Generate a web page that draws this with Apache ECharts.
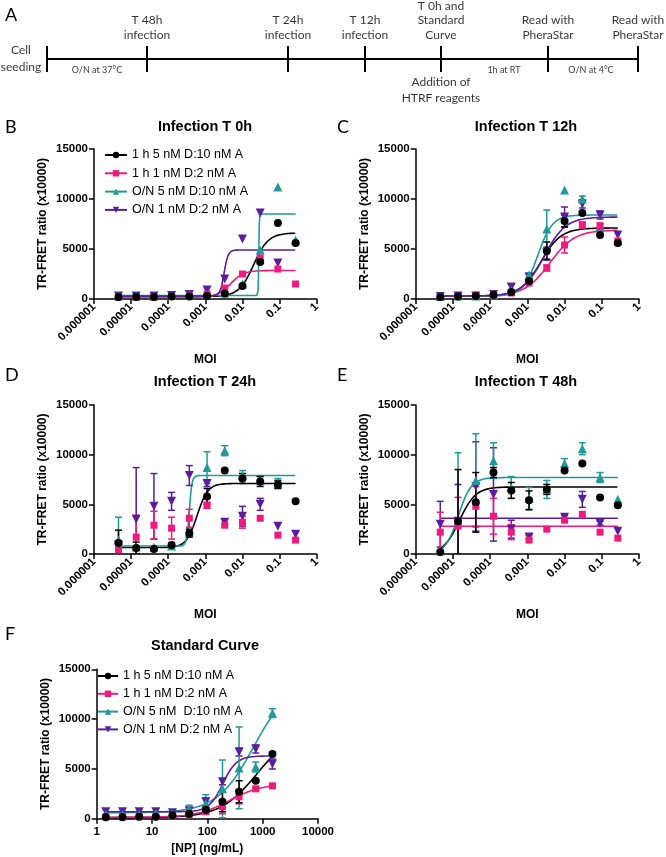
<!DOCTYPE html>
<html><head><meta charset="utf-8">
<script src="https://cdn.jsdelivr.net/npm/echarts@6/dist/echarts.min.js"></script>
<style>html,body{margin:0;padding:0;background:#fff}#c{width:666px;height:857px}</style>
</head><body><div id="c"></div>
<script>
// ---------- DATA ----------
const seriesNames = ['1 h 5 nM D:10 nM A', '1 h 1 nM D:2 nM A', 'O/N 5 nM D:10 nM A', 'O/N 1 nM D:2 nM A'];
const seriesNamesF = ['1 h 5 nM D:10 nM A', '1 h 1 nM D:2 nM A', 'O/N 5 nM  D:10 nM A', 'O/N 1 nM D:2 nM A'];
const panelTitles = ['Infection T 0h', 'Infection T 12h', 'Infection T 24h', 'Infection T 48h', 'Standard Curve'];
const panelLetters = ['A', 'B', 'C', 'D', 'E', 'F'];
const moiTickLabels = ['0.000001', '0.00001', '0.0001', '0.001', '0.01', '0.1', '1'];
const npTickLabels = ['1', '10', '100', '1000', '10000'];

const MOI = [0.00000457, 0.0000137, 0.0000412, 0.000123, 0.00037, 0.00111, 0.00333, 0.01, 0.03, 0.09, 0.27];
const NP = [1.46, 2.93, 5.86, 11.7, 23.4, 46.9, 93.75, 187.5, 375, 750, 1500];

// Panel B – T 0h
const B_black  = [200, 200, 200, 250, 250, 300, 550, 1300, 3700, 7600, 5600];
const B_pink   = [200, 200, 200, 250, 300, 500, 1100, 2500, 4100, 3000, 1500];
const B_teal   = [300, 300, 300, 350, 400, 450, 600, 1500, 4900, 11200, 5900];
const B_purple = [300, 300, 300, 350, 450, 900, 2000, 6000, 8600, 3600, null];
// fit params [bottom, top, EC50, hill]
const B_fits = [[250, 6600, 0.02, 2.2], [200, 2850, 0.0048, 2.5], [350, 8500, 0.0275, 60], [300, 4900, 0.0032, 8]];

// Panel C – T 12h
const C_black  = [200, 250, 300, 400, 700, 1800, 4800, 7800, 8600, 6400, 5600];
const C_pink   = [200, 250, 300, 400, 600, 1600, 3100, 5400, 7400, 7300, 5800];
const C_teal   = [250, 300, 300, 400, 800, 2400, 7000, 10900, 10000, 7200, 5800];
const C_purple = [250, 300, 300, 450, 1200, 2200, 4600, 8200, 9500, 8400, 6400];
const C_black_err  = [null, null, null, null, null, 200, 900, 600, null, null, null];
const C_pink_err   = [null, null, null, null, null, null, 300, 800, 300, 300, null];
const C_teal_err   = [null, null, null, null, null, 200, 1900, null, 300, null, null];
const C_purple_err = [null, null, null, null, 300, null, 600, 1000, 400, 400, null];
const C_fits = [[300, 7100, 0.0023, 1.6], [300, 6900, 0.004, 1.3], [300, 8400, 0.0019, 2.2], [300, 8200, 0.0028, 1.5]];

// Panel D – T 24h
const D_black  = [1100, 600, 500, 900, 2100, 5800, 8400, 7600, 7300, 7000, 5300];
const D_pink   = [400, 1700, 2900, 2600, 3600, 4900, 2900, 3200, 3600, 1900, 1400];
const D_teal   = [1400, 700, 700, 800, 2200, 8700, 10400, 7900, 7400, 7100, null];
const D_purple = [900, 3500, 4800, 5300, 7900, 7100, 3200, 3800, 5000, 2800, 2000];
const D_black_err  = [1300, 600, null, 200, 400, 800, null, 500, 500, 400, null];
const D_pink_err   = [500, 2200, 1400, 1100, 900, 300, null, 600, null, null, null];
const D_teal_err   = [2300, null, null, null, null, 1600, 500, 500, 400, 500, null];
const D_purple_err = [null, 5200, 3300, 900, 1000, 300, null, 1000, 600, null, null];
const D_fits = [[650, 7100, 0.0006, 3], null, [800, 7900, 0.00037, 12], null];

// Panel E – T 48h
const E_black  = [200, 3300, 5200, 8200, 6400, 5400, 6500, 8400, 9100, 5700, 4900];
const E_pink   = [2200, 2800, 4800, 3800, 2200, 1400, 2500, 3400, 4000, 2200, 1600];
const E_teal   = [300, 3300, 7400, 9400, 6700, 5600, 6500, 9100, 10600, 7700, 5500];
const E_purple = [3000, 3300, 6800, 6000, 2500, 1700, null, 3700, 5500, 3100, 2300];
const E_black_err  = [null, 5200, 3000, 500, 800, 950, 500, null, null, null, null];
const E_pink_err   = [2000, 2900, 2000, 1800, 750, null, null, null, null, null, null];
const E_teal_err   = [null, 6900, 4700, 1800, 1100, 1100, 900, 500, 600, 500, null];
const E_purple_err = [2300, 3700, 4500, 4700, 900, 200, null, 200, 800, 200, null];
const E_fits = [[0, 6750, 0.000015, 2], [2800, 2800, 0.001, 1], [0, 7700, 0.000014, 2.5], [3600, 3600, 0.001, 1]];

// Panel F – Standard curve
const F_black  = [150, 150, 200, 200, 350, 500, 900, 1700, 2700, 3800, 6500];
const F_pink   = [200, 200, 200, 200, 300, 400, 700, 1200, 2200, 3000, 3300];
const F_teal   = [400, 400, 400, 500, 500, 1000, 1500, 3000, 5100, 5200, 10600];
const F_purple = [700, 700, 700, 700, 600, 800, 1700, 3700, 6700, 7000, 5500];
const F_black_err  = [null, null, null, null, null, null, 200, 1000, 1100, null, null];
const F_pink_err   = [null, null, null, null, null, null, 200, 700, 700, 100, null];
const F_teal_err   = [null, null, null, null, null, 350, 900, 2900, 4100, 500, 450];
const F_purple_err = [null, null, null, null, null, null, 400, 300, 400, 400, 500];
const F_fits = [[100, 9000, 800, 1.3], [150, 3500, 250, 1.5], [600, 14000, 700, 1.3], [700, 6300, 190, 3.5]];

// Timeline (panel A), positions in timeline units
const timelineTicks = [0, 100, 241, 318, 394, 501, 591];
const timelineTopLabels = ['', 'T 48h\ninfection', 'T 24h\ninfection', 'T 12h\ninfection', 'T 0h and\nStandard\nCurve', 'Read with\nPheraStar', 'Read with\nPheraStar'];
const timelineStartLabel = 'Cell\nseeding';
const timelineBottomLabel = 'Addition of\nHTRF reagents';
const timelineBottomAt = 394;
const intervalLabels = ['O/N at 37°C', '1h at RT', 'O/N at 4°C'];
const intervalPos = [50, 457, 544];

// ---------- STYLE ----------
const colors = ['#000000', '#F0197D', '#1F9A98', '#5A1E9C'];
const symbols = ['circle', 'rect', 'triangle', 'triangle'];
const symRot = [0, 0, 0, 180];
const symSize = [8, 7, 9, 9];
const AR = 'Liberation Sans';

const chart = echarts.init(document.getElementById('c'), null, {renderer: 'canvas'});

const grids = [
  {left: 47, top: 39, width: 591, height: 40},
  {left: 94, top: 149, width: 222.7, height: 150},
  {left: 415.7, top: 149, width: 223.3, height: 150},
  {left: 94, top: 405, width: 222.7, height: 149},
  {left: 415.7, top: 405, width: 223.3, height: 149},
  {left: 96.7, top: 669.3, width: 221.3, height: 149.4}
].map(g => Object.assign({outerBoundsMode: 'none', containLabel: false}, g));

const axisLine = {show: true, onZero: false, lineStyle: {color: '#000', width: 1.5}};
const axisTick = {show: true, length: 5, lineStyle: {color: '#000', width: 1.5}};
const lbl = {color: '#000', fontWeight: 'bold', fontSize: 11.5, fontFamily: AR};

const xAxes = [{gridIndex: 0, type: 'value', min: 0, max: 591, show: false}];
const yAxes = [{gridIndex: 0, type: 'value', min: -1, max: 1, show: false}];
for (let g = 1; g <= 5; g++) {
  const isF = g === 5;
  xAxes.push({
    gridIndex: g, type: 'log', logBase: 10,
    min: isF ? 1 : 1e-6, max: isF ? 10000 : 1, splitNumber: isF ? 4 : 6,
    axisLine, axisTick, splitLine: {show: false}, minorTick: {show: false},
    axisLabel: Object.assign({}, lbl, {
      rotate: isF ? 0 : 45, margin: isF ? 7 : 6,
      formatter: v => isF ? npTickLabels[Math.round(Math.log10(v))] : moiTickLabels[Math.round(Math.log10(v)) + 6]
    }),
    name: isF ? '[NP] (ng/mL)' : 'MOI', nameLocation: 'middle', nameGap: isF ? 24 : 55,
    nameTextStyle: {color: '#000', fontWeight: 'bold', fontSize: 12, fontFamily: AR}
  });
  yAxes.push({
    gridIndex: g, type: 'value', min: 0, max: 15000, interval: 5000,
    axisLine, axisTick, splitLine: {show: false},
    axisLabel: Object.assign({}, lbl, {margin: 6, formatter: v => String(v)}),
    name: 'TR-FRET ratio (x10000)', nameLocation: 'middle', nameGap: 45, nameRotate: 90,
    nameTextStyle: {color: '#000', fontWeight: 'bold', fontSize: 12, fontFamily: AR}
  });
}

function fourPL(p, x) { return p[0] + (p[1] - p[0]) / (1 + Math.pow(p[2] / x, p[3])); }
function curve(p, xs) {
  const lo = Math.log10(xs[0]), hi = Math.log10(xs[xs.length - 1]), n = 400, out = [];
  for (let i = 0; i <= n; i++) { const x = Math.pow(10, lo + (hi - lo) * i / n); out.push([x, fourPL(p, x)]); }
  return out;
}

const panels = [
  {g: 1, x: MOI, vals: [B_black, B_pink, B_teal, B_purple], errs: [null, null, null, null], fits: B_fits, names: seriesNames},
  {g: 2, x: MOI, vals: [C_black, C_pink, C_teal, C_purple], errs: [C_black_err, C_pink_err, C_teal_err, C_purple_err], fits: C_fits, names: seriesNames},
  {g: 3, x: MOI, vals: [D_black, D_pink, D_teal, D_purple], errs: [D_black_err, D_pink_err, D_teal_err, D_purple_err], fits: D_fits, names: seriesNames},
  {g: 4, x: MOI, vals: [E_black, E_pink, E_teal, E_purple], errs: [E_black_err, E_pink_err, E_teal_err, E_purple_err], fits: E_fits, names: seriesNames},
  {g: 5, x: NP, vals: [F_black, F_pink, F_teal, F_purple], errs: [F_black_err, F_pink_err, F_teal_err, F_purple_err], fits: F_fits, names: seriesNamesF}
];

const series = [];
// timeline
series.push({type: 'line', xAxisIndex: 0, yAxisIndex: 0, data: [[timelineTicks[0], 0], [timelineTicks[timelineTicks.length - 1], 0]],
  symbol: 'none', lineStyle: {color: '#000', width: 2}, silent: true});
series.push({type: 'custom', xAxisIndex: 0, yAxisIndex: 0, data: timelineTicks.map(t => [t]), silent: true,
  renderItem: (params, api) => {
    const a = api.coord([api.value(0), -0.65]), b = api.coord([api.value(0), 0.65]);
    return {type: 'line', shape: {x1: a[0], y1: a[1], x2: b[0], y2: b[1]}, style: {stroke: '#000', lineWidth: 2}};
  }});
const tlText = {color: '#000', fontFamily: 'Lato', fontSize: 12, lineHeight: 14.5};
series.push({type: 'scatter', xAxisIndex: 0, yAxisIndex: 0, symbolSize: 0, silent: true, clip: false,
  data: timelineTicks.map((t, i) => ({value: [t, 0.65], label: {show: !!timelineTopLabels[i], formatter: timelineTopLabels[i]}})),
  label: Object.assign({position: 'top', distance: 4, align: 'center'}, tlText)});
series.push({type: 'scatter', xAxisIndex: 0, yAxisIndex: 0, symbolSize: 0, silent: true, clip: false,
  data: [{value: [timelineTicks[0], 0], label: {formatter: timelineStartLabel, position: 'left', distance: 26, lineHeight: 17}},
         {value: [timelineBottomAt, -0.65], label: {formatter: timelineBottomLabel, position: 'bottom', distance: 2, lineHeight: 16}}],
  label: Object.assign({show: true, align: 'center'}, tlText)});
series.push({type: 'scatter', xAxisIndex: 0, yAxisIndex: 0, symbolSize: 0, silent: true, clip: false,
  data: intervalPos.map((p, i) => ({value: [p, 0], label: {formatter: intervalLabels[i]}})),
  label: {show: true, position: 'bottom', distance: 7, color: '#000', fontFamily: 'Lato', fontSize: 9}});

// curves first (legend takes icon from first series by name)
panels.forEach(P => {
  P.fits.forEach((f, k) => {
    if (!f) return;
    series.push({type: 'line', name: P.names[k], xAxisIndex: P.g, yAxisIndex: P.g, data: curve(f, P.x),
      showSymbol: false, symbol: symbols[k], symbolRotate: symRot[k], symbolSize: symSize[k],
      itemStyle: {color: colors[k]}, lineStyle: {color: colors[k], width: 1.6}, z: 2, silent: true});
  });
});
panels.forEach(P => {
  [3, 2, 1, 0].forEach(k => {
    const err = P.errs[k];
    if (err) {
      const d = [];
      P.x.forEach((x, i) => { if (err[i] != null && P.vals[k][i] != null) d.push([x, P.vals[k][i], err[i]]); });
      series.push({type: 'custom', name: P.names[k], xAxisIndex: P.g, yAxisIndex: P.g, data: d, z: 3, silent: true, clip: true,
        renderItem: (params, api) => {
          const x = api.value(0), y = api.value(1), e = api.value(2);
          const t = api.coord([x, y + e]), b = api.coord([x, Math.max(0, y - e)]);
          const st = {stroke: colors[k], lineWidth: 1.5};
          return {type: 'group', children: [
            {type: 'line', shape: {x1: t[0], y1: t[1], x2: b[0], y2: b[1]}, style: st},
            {type: 'line', shape: {x1: t[0] - 3.5, y1: t[1], x2: t[0] + 3.5, y2: t[1]}, style: st},
            {type: 'line', shape: {x1: b[0] - 3.5, y1: b[1], x2: b[0] + 3.5, y2: b[1]}, style: st}
          ]};
        }});
    }
    const pts = [];
    P.x.forEach((x, i) => { if (P.vals[k][i] != null) pts.push([x, P.vals[k][i]]); });
    series.push({type: 'scatter', name: P.names[k], xAxisIndex: P.g, yAxisIndex: P.g, data: pts,
      symbol: symbols[k], symbolRotate: symRot[k], symbolSize: symSize[k], itemStyle: {color: colors[k], opacity: 1}, z: 4, silent: true});
  });
});

const titles = [];
const letterPos = [[5, 6], [5, 118], [337, 118], [5, 366], [337, 366], [5, 625]];
panelLetters.forEach((L, i) => titles.push({text: L, left: letterPos[i][0], top: letterPos[i][1],
  textStyle: {color: '#000', fontFamily: 'Lato', fontWeight: 'normal', fontSize: 18}, padding: 0}));
const titlePos = [[205, 119], [526, 119], [205, 374], [526, 374], [205, 638]];
panelTitles.forEach((T, i) => titles.push({text: T, left: titlePos[i][0], top: titlePos[i][1], textAlign: 'center', padding: 0,
  textStyle: {color: '#000', fontFamily: AR, fontWeight: 'bold', fontSize: 14.5}}));

const legTxt = {color: '#000', fontFamily: AR, fontSize: 12.5, lineHeight: 14};
chart.setOption({
  animation: false,
  backgroundColor: '#fff',
  title: titles,
  grid: grids,
  xAxis: xAxes,
  yAxis: yAxes,
  legend: [
    {data: seriesNames, orient: 'vertical', left: 104, top: 148, itemWidth: 22, itemHeight: 8, itemGap: 4.3, selectedMode: false, padding: 0, textStyle: legTxt},
    {data: seriesNamesF, orient: 'vertical', left: 97, top: 669, itemWidth: 20, itemHeight: 8, itemGap: 3.8, selectedMode: false, padding: 0, textStyle: legTxt}
  ],
  series
});
</script></body></html>
